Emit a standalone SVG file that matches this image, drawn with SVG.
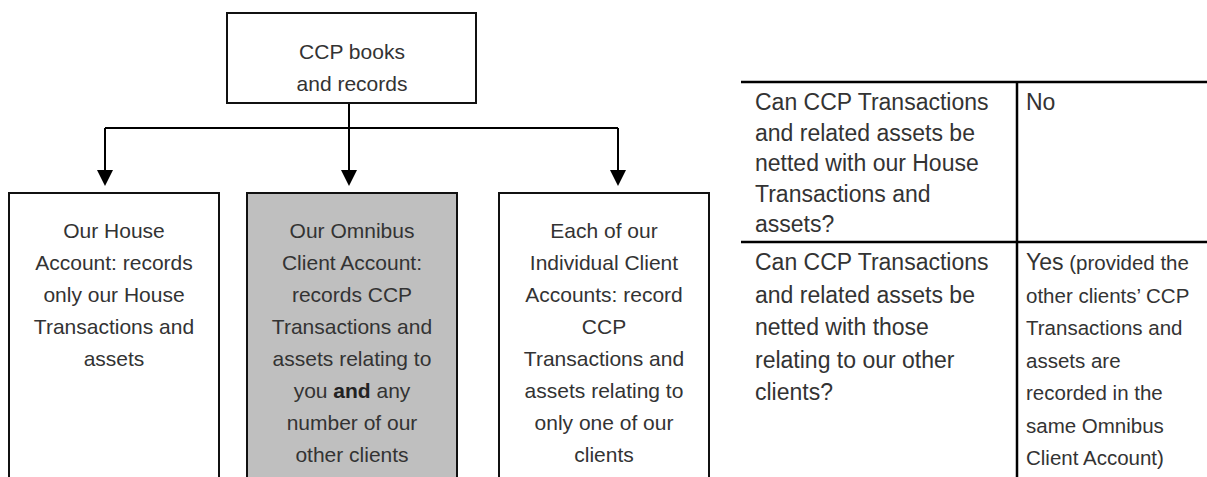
<svg xmlns="http://www.w3.org/2000/svg" width="1207" height="477" viewBox="0 0 1207 477">
<style>
.box{fill:#fff;stroke:#111;stroke-width:2}
.grey{fill:#bfbfbf}
.t{font-family:"Liberation Sans",Arial,sans-serif;font-size:21px;fill:#333;text-anchor:middle}
.tb{font-family:"Liberation Sans",Arial,sans-serif;font-size:23px;fill:#333}
.tr{font-family:"Liberation Sans",Arial,sans-serif;font-size:20.5px;fill:#333}
.conn{stroke:#000;stroke-width:2;fill:none}
.rule{stroke:#000;stroke-width:2.5;fill:none}
</style>
<g id="connectors">
<path class="conn" d="M349,103 V128"/>
<path class="conn" d="M105,128 H618"/>
<path class="conn" d="M105,128 V170"/>
<path class="conn" d="M349,128 V170"/>
<path class="conn" d="M618,128 V170"/>
<path d="M97,170 L113,170 L105,186 Z" fill="#000"/>
<path d="M341,170 L357,170 L349,186 Z" fill="#000"/>
<path d="M610,170 L626,170 L618,186 Z" fill="#000"/>
</g>
<g id="root">
<rect class="box" x="227" y="13" width="249" height="90"/>
<text class="t" x="352" y="59">CCP books</text>
<text class="t" x="352" y="91">and records</text>
</g>
<g id="house">
<path class="box" d="M9,477 V193 H219 V477"/>
<text class="t" x="114" y="238">Our House</text>
<text class="t" x="114" y="270">Account: records</text>
<text class="t" x="114" y="302">only our House</text>
<text class="t" x="114" y="334">Transactions and</text>
<text class="t" x="114" y="366">assets</text>
</g>
<g id="omnibus">
<path class="box grey" d="M247,477 V193 H457 V477"/>
<text class="t" x="352" y="238">Our Omnibus</text>
<text class="t" x="352" y="270">Client Account:</text>
<text class="t" x="352" y="302">records CCP</text>
<text class="t" x="352" y="334">Transactions and</text>
<text class="t" x="352" y="366">assets relating to</text>
<text class="t" x="352" y="398">you <tspan font-weight="bold" fill="#222">and</tspan> any</text>
<text class="t" x="352" y="430">number of our</text>
<text class="t" x="352" y="462">other clients</text>
</g>
<g id="individual">
<path class="box" d="M499,477 V193 H709 V477"/>
<text class="t" x="604" y="238">Each of our</text>
<text class="t" x="604" y="270">Individual Client</text>
<text class="t" x="604" y="302">Accounts: record</text>
<text class="t" x="604" y="334">CCP</text>
<text class="t" x="604" y="366">Transactions and</text>
<text class="t" x="604" y="398">assets relating to</text>
<text class="t" x="604" y="430">only one of our</text>
<text class="t" x="604" y="462">clients</text>
</g>
<g id="table">
<path class="rule" d="M741,82 H1207 M741,242 H1207 M1017,82 V477"/>
<text class="tb" x="755" y="110">Can CCP Transactions</text>
<text class="tb" x="755" y="140.5">and related assets be</text>
<text class="tb" x="755" y="171">netted with our House</text>
<text class="tb" x="755" y="201.5">Transactions and</text>
<text class="tb" x="755" y="232">assets?</text>
<text class="tb" x="1026" y="110">No</text>
<text class="tb" x="755" y="270">Can CCP Transactions</text>
<text class="tb" x="755" y="302.5">and related assets be</text>
<text class="tb" x="755" y="335">netted with those</text>
<text class="tb" x="755" y="367.5">relating to our other</text>
<text class="tb" x="755" y="400">clients?</text>
<text class="tr" x="1026" y="270"><tspan font-size="23px">Yes</tspan> (provided the</text>
<text class="tr" x="1026" y="302.5">other clients’ CCP</text>
<text class="tr" x="1026" y="335">Transactions and</text>
<text class="tr" x="1026" y="367.5">assets are</text>
<text class="tr" x="1026" y="400">recorded in the</text>
<text class="tr" x="1026" y="432.5">same Omnibus</text>
<text class="tr" x="1026" y="465">Client Account)</text>
</g>
</svg>
